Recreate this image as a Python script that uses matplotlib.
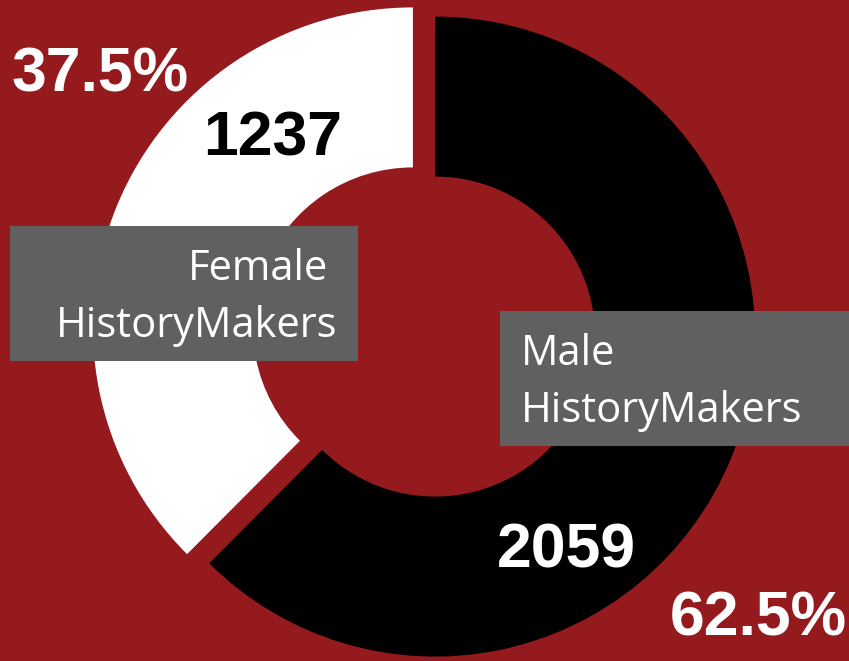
import matplotlib
matplotlib.use("Agg")
import matplotlib.pyplot as plt
from matplotlib.patches import Rectangle

# data
groups = ["Male\nHistoryMakers", "Female\nHistoryMakers"]
counts = [2059, 1237]
percents = ["62.5%", "37.5%"]
colors = ["black", "white"]

W, H = 849, 661
bg = "#941A1E"
box_color = "#606060"

fig = plt.figure(figsize=(W / 100, H / 100), dpi=100, facecolor=bg)
ax = fig.add_axes([0, 0, 1, 1])
ax.set_facecolor(bg)

cx, cy = 424, H - 332
ax.pie(counts, colors=colors, radius=320, center=(cx, cy), startangle=90,
       counterclock=False, explode=[12, 12],
       wedgeprops=dict(width=160, linewidth=0))
ax.set_xlim(0, W)
ax.set_ylim(0, H)
ax.set_aspect("auto")
ax.axis("off")

num_font = dict(family=["Liberation Sans", "DejaVu Sans"], weight="bold", size=45)
lab_font = dict(family=["Open Sans", "DejaVu Sans"], size=30)


def py(y):
    return H - y


# count labels and percents
ax.text(273, py(155), str(counts[1]), color="black", ha="center", va="baseline", **num_font)
ax.text(566, py(567), str(counts[0]), color="white", ha="center", va="baseline", **num_font)
ax.text(100, py(92), percents[1], color="white", ha="center", va="baseline", **num_font)
ax.text(758, py(636), percents[0], color="white", ha="center", va="baseline", **num_font)

# gray label boxes
ax.add_patch(Rectangle((10, py(361)), 348, 135, facecolor=box_color, edgecolor="none"))
ax.add_patch(Rectangle((500, py(446)), 349, 135, facecolor=box_color, edgecolor="none"))

fem = groups[1].split("\n")
male = groups[0].split("\n")
ax.text(328, py(280), fem[0], color="white", ha="right", va="baseline", **lab_font)
ax.text(337, py(337), fem[1], color="white", ha="right", va="baseline", **lab_font)
ax.text(521, py(365), male[0], color="white", ha="left", va="baseline", **lab_font)
ax.text(521, py(422), male[1], color="white", ha="left", va="baseline", **lab_font)

fig.savefig("out.png", dpi=100, facecolor=bg)
